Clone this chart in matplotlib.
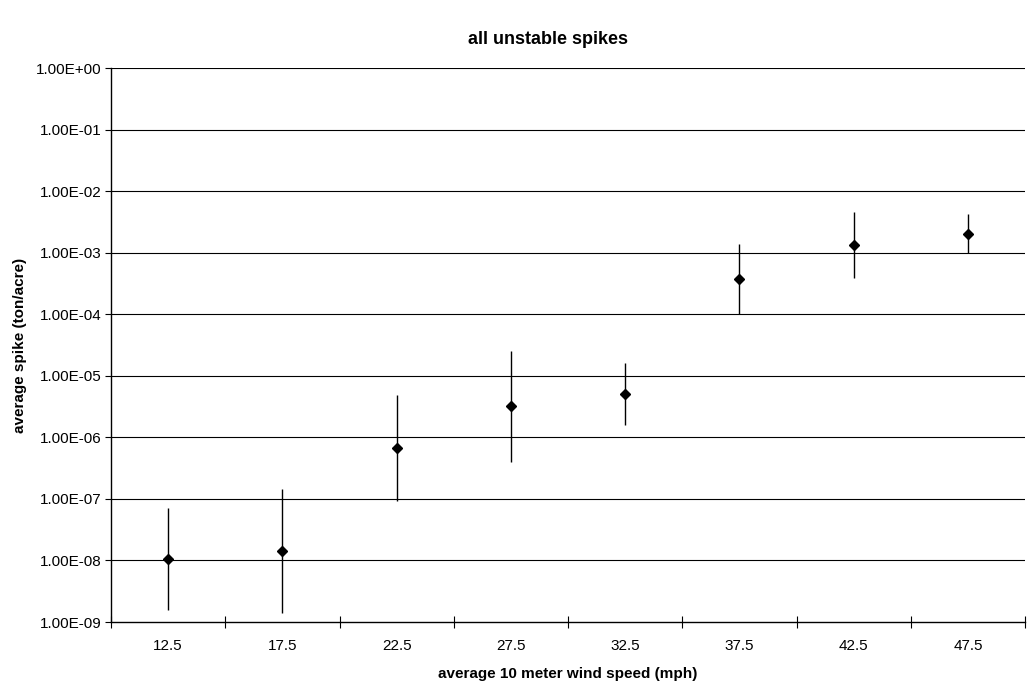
import matplotlib
matplotlib.use("Agg")
import matplotlib.pyplot as plt
import numpy as np
from matplotlib.ticker import FixedLocator, NullLocator, FuncFormatter

plt.rcParams['font.family'] = ['Liberation Sans', 'DejaVu Sans']

categories = ["12.5", "17.5", "22.5", "27.5", "32.5", "37.5", "42.5", "47.5"]
mean_spike = [1.07e-8, 1.44e-8, 6.6e-7, 3.2e-6, 5.1e-6, 3.7e-4, 1.33e-3, 2.04e-3]
upper_bound = [7.2e-8, 1.45e-7, 4.8e-6, 2.55e-5, 1.6e-5, 1.38e-3, 4.5e-3, 4.25e-3]
lower_bound = [1.55e-9, 1.4e-9, 9.4e-8, 3.96e-7, 1.6e-6, 1.02e-4, 3.9e-4, 1.0e-3]

fig = plt.figure(figsize=(10.29, 6.98), dpi=100)
ax = fig.add_axes([111/1029, 76/698, (1025-111)/1029, (622-68)/698])

x = np.arange(len(categories))
mean = np.array(mean_spike)
yerr = np.vstack([mean - np.array(lower_bound), np.array(upper_bound) - mean])

ax.set_yscale('log')
ax.set_ylim(1e-9, 1e0)
ax.set_xlim(-0.5, len(categories) - 0.5)

decades = [10.0**k for k in range(-9, 1)]
for d in decades[1:]:
    ax.axhline(d, color='black', lw=0.8, zorder=1)

ax.errorbar(x, mean, yerr=yerr, fmt='D', color='black', ecolor='black',
            elinewidth=1.0, markersize=5.5, capsize=0, zorder=3)

ax.yaxis.set_major_locator(FixedLocator(decades))
ax.yaxis.set_minor_locator(NullLocator())
ax.yaxis.set_major_formatter(FuncFormatter(lambda v, p: "%.2E" % v))

ax.set_xticks(x)
ax.set_xticklabels(categories)
ax.set_xticks(np.arange(-0.5, len(categories), 1.0), minor=True)
ax.tick_params(axis='x', which='major', length=0, labelsize=11, pad=12)
ax.tick_params(axis='x', which='minor', length=8, direction='inout', width=0.8)
ax.tick_params(axis='y', which='major', length=4, direction='out', width=0.8, labelsize=11, pad=2.5)

for s in ['top', 'right']:
    ax.spines[s].set_visible(False)
for s in ['left', 'bottom']:
    ax.spines[s].set_color('black')
    ax.spines[s].set_linewidth(1.0)

ax.set_xlabel("average 10 meter wind speed (mph)", fontsize=11, fontweight='bold', labelpad=10)
ax.set_ylabel("average spike (ton/acre)", fontsize=11, fontweight='bold')
ax.yaxis.set_label_coords(-84/914, 0.5)
fig.text(548/1029, 1 - 40/698, "all unstable spikes", ha='center', va='center',
         fontsize=13, fontweight='bold')

fig.savefig("out.png", dpi=100)
